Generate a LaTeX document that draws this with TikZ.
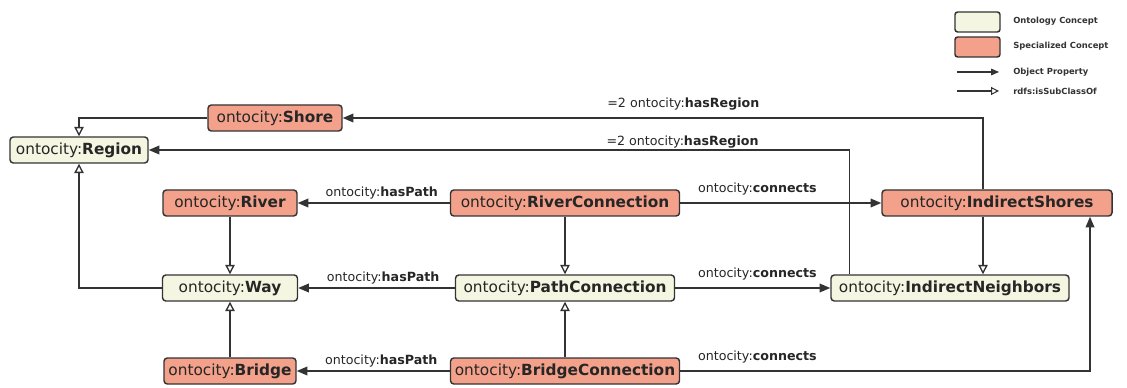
\documentclass[tikz,border=0pt]{standalone}
\usepackage{fontspec}
\setmainfont{DejaVu Sans}
\usetikzlibrary{arrows.meta,calc}
\definecolor{onto}{HTML}{F5F6E1}
\definecolor{spec}{HTML}{F3A18B}
\definecolor{edgec}{HTML}{333333}
\tikzset{
 concept/.style={draw=edgec, line width=1.1pt, rounded corners=2.5pt, minimum height=19.5pt, inner xsep=3pt, inner ysep=0pt, font=\fontsize{11.5}{13}\selectfont, text=black!85},
 ontoc/.style={concept, fill=onto},
 specc/.style={concept, fill=spec},
 obj/.style={draw=edgec, line width=1.15pt, -{Triangle[length=8pt,width=6.5pt]}},
 sub/.style={draw=edgec, line width=1pt, -{Triangle[open,length=7pt,width=7pt,fill=white]}},
 lab/.style={font=\fontsize{9.5}{11}\selectfont, text=black!85, inner sep=0pt, anchor=base},
 leg/.style={font=\bfseries\fontsize{6.3}{7}\selectfont, anchor=west, inner sep=0pt, text=black!80}
}
\newcommand{\oc}[1]{ontocity:\textbf{#1}}
\begin{document}
\begin{tikzpicture}[x=0.75pt,y=-0.75pt]
\useasboundingbox (0,0) rectangle (1127,388);
% nodes
\node[specc, minimum width=100.5pt] (shore) at (275,118) {\oc{Shore}};
\node[ontoc, minimum width=103.5pt] (region) at (79,150) {\oc{Region}};
\node[specc, minimum width=100.5pt] (river) at (230,203) {\oc{River}};
\node[specc, minimum width=171.75pt] (rc) at (565,203) {\oc{RiverConnection}};
\node[specc, minimum width=172.5pt] (is) at (997,203) {\oc{IndirectShores}};
\node[ontoc, minimum width=101.25pt] (way) at (230,288) {\oc{Way}};
\node[ontoc, minimum width=164.25pt] (pc) at (565,288) {\oc{PathConnection}};
\node[ontoc, minimum width=178.5pt] (in) at (950,288) {\oc{IndirectNeighbors}};
\node[specc, minimum width=99pt] (bridge) at (230,371) {\oc{Bridge}};
\node[specc, minimum width=171.75pt] (bc) at (565,371) {\oc{BridgeConnection}};
% helper coordinates
\coordinate (inu) at ($(in.north west)+(19,0)$);
\coordinate (isu) at ($(is.north)+(-14,0)$);
\coordinate (isd) at ($(is.south)+(-14,0)$);
\coordinate (isb) at ($(is.south)+(93,0)$);
% subclass edges
\draw[sub] (shore.west) -| (region.north);
\draw[sub] (way.west) -| (region.south);
\draw[sub] (river.south) -- (way.north);
\draw[sub] (bridge.north) -- (way.south);
\draw[sub] (rc.south) -- (pc.north);
\draw[sub] (bc.north) -- (pc.south);
\draw[sub] (isd) -- (isd |- in.north);
% object properties
\draw[obj] (inu) |- (region.east) node[lab, pos=0.619, yshift=3pt]{=2 \oc{hasRegion}};
\draw[obj] (isu) |- (shore.east) node[lab, pos=0.734, yshift=7.5pt]{=2 \oc{hasRegion}};
\draw[obj] (rc.west) -- (river.east) node[lab, midway, xshift=6pt, yshift=5pt]{\oc{hasPath}};
\draw[obj] (pc.west) -- (way.east) node[lab, midway, xshift=5pt, yshift=5pt]{\oc{hasPath}};
\draw[obj] (bc.west) -- (bridge.east) node[lab, midway, xshift=6pt, yshift=5pt]{\oc{hasPath}};
\draw[obj] (rc.east) -- (is.west) node[lab, pos=0, anchor=base west, xshift=12.75pt, yshift=8pt]{\oc{connects}};
\draw[obj] (pc.east) -- (in.west) node[lab, pos=0, anchor=base west, xshift=16.5pt, yshift=8pt]{\oc{connects}};
\draw[obj] (bc.east) -| (isb) node[lab, pos=0, anchor=base west, xshift=12.75pt, yshift=8pt]{\oc{connects}};
% legend
\node[ontoc, minimum width=33.75pt, minimum height=15pt, rounded corners=2pt] (lo) at (977.5,22) {};
\node[leg] (lot) at (1013,21) {Ontology Concept};
\node[specc, minimum width=33.75pt, minimum height=15pt, rounded corners=2pt] (ls) at (977.5,47) {};
\node[leg] (lst) at (1013,46) {Specialized Concept};
\coordinate (la1) at (957,72);
\coordinate (la2) at (999,72);
\draw[obj, line width=0.8pt, -{Triangle[length=6pt,width=5pt]}] (la1) -- (la2);
\node[leg] (lat) at (1013,72) {Object Property};
\coordinate (lb1) at (957,91);
\coordinate (lb2) at (999,91);
\draw[sub, line width=0.8pt, -{Triangle[open,length=6pt,width=6pt,fill=white]}] (lb1) -- (lb2);
\node[leg] (lbt) at (1013,91) {rdfs:isSubClassOf};
\end{tikzpicture}
\end{document}
